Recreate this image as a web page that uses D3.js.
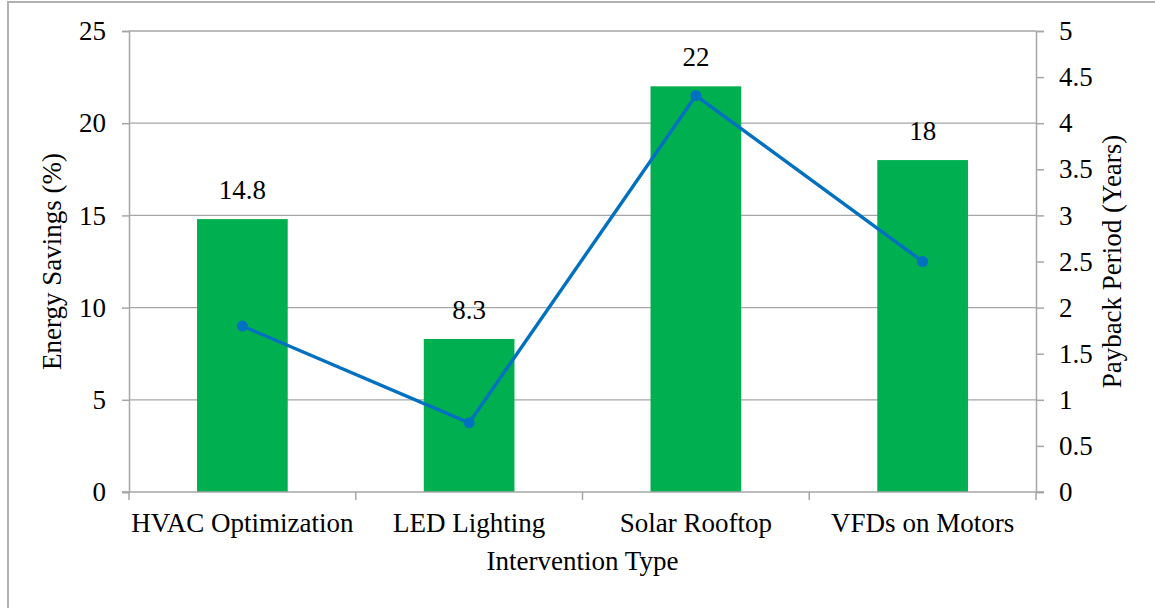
<!DOCTYPE html>
<html>
<head>
<meta charset="utf-8">
<script src="https://cdn.jsdelivr.net/npm/d3@7/dist/d3.min.js"></script>
<style>
  html, body { margin: 0; padding: 0; background: #fff; }
  svg { display: block; }
  svg text { font-family: "Liberation Serif", "Times New Roman", serif !important; fill: #000; }
</style>
</head>
<body>
<svg id="chart" width="1155" height="608" font-family="Liberation Serif, serif"></svg>
<script>
// Interventions and their results
const categories = ["HVAC Optimization", "LED Lighting", "Solar Rooftop", "VFDs on Motors"];
const energySavings = [14.8, 8.3, 22, 18];      // % (bars, left axis)
const paybackYears = [1.8, 0.75, 4.3, 2.5];     // years (line, right axis)
const leftTicks = [0, 5, 10, 15, 20, 25];
const rightTicks = [0, 0.5, 1, 1.5, 2, 2.5, 3, 3.5, 4, 4.5, 5];

const svg = d3.select("#chart");
const W = 1155, H = 608;
const plot = { left: 129, right: 1036, top: 31, bottom: 492 };
const gridColor = "#a6a6a6";
const fontSize = 27;
const serif = '"Liberation Serif", "Times New Roman", serif';

// Outer chart border (top and left edges visible)
svg.append("path")
  .attr("d", `M8,${H} L8,2 L${W},2`)
  .attr("fill", "none")
  .attr("stroke", "#b0b0b0")
  .attr("stroke-width", 2);

const x = d3.scaleBand()
  .domain(categories)
  .range([plot.left, plot.right])
  .paddingInner(0.6)
  .paddingOuter(0.3);

const yL = d3.scaleLinear().domain([0, 25]).range([plot.bottom, plot.top]);
const yR = d3.scaleLinear().domain([0, 5]).range([plot.bottom, plot.top]);

// Horizontal gridlines
svg.append("g")
  .selectAll("line")
  .data(leftTicks.filter(t => t > 0))
  .join("line")
  .attr("x1", plot.left).attr("x2", plot.right)
  .attr("y1", d => yL(d)).attr("y2", d => yL(d))
  .attr("stroke", gridColor).attr("stroke-width", 1.3);

// Bars
svg.append("g")
  .selectAll("rect")
  .data(categories)
  .join("rect")
  .attr("x", d => x(d))
  .attr("width", x.bandwidth())
  .attr("y", (d, i) => yL(energySavings[i]))
  .attr("height", (d, i) => yL(0) - yL(energySavings[i]))
  .attr("fill", "#00b050");

// Bar value labels
svg.append("g")
  .selectAll("text")
  .data(categories)
  .join("text")
  .attr("x", d => x(d) + x.bandwidth() / 2)
  .attr("y", (d, i) => yL(energySavings[i]) - 20)
  .attr("text-anchor", "middle")
  .attr("font-family", serif)
  .attr("font-size", fontSize)
  .text((d, i) => energySavings[i]);

// Left axis
const leftAxis = d3.axisLeft(yL).tickValues(leftTicks).tickSize(7).tickPadding(16).tickFormat(d3.format("d"));
const gL = svg.append("g").attr("transform", `translate(${plot.left},0)`).call(leftAxis);

// Right axis
const rightAxis = d3.axisRight(yR).tickValues(rightTicks).tickSize(8).tickPadding(15).tickFormat(d => String(d));
const gR = svg.append("g").attr("transform", `translate(${plot.right},0)`).call(rightAxis);

// Bottom axis: category labels, ticks on category boundaries
const gB = svg.append("g").attr("transform", `translate(0,${plot.bottom})`);
gB.append("line")
  .attr("x1", plot.left - 7).attr("x2", plot.right + 8)
  .attr("y1", 0).attr("y2", 0)
  .attr("stroke", gridColor).attr("stroke-width", 1.5);
const step = x.step();
gB.selectAll("line.tick")
  .data(d3.range(categories.length + 1))
  .join("line")
  .attr("class", "tick")
  .attr("x1", i => plot.left + i * step).attr("x2", i => plot.left + i * step)
  .attr("y1", 0).attr("y2", 8)
  .attr("stroke", gridColor).attr("stroke-width", 1.5);
gB.selectAll("text")
  .data(categories)
  .join("text")
  .attr("x", d => x(d) + x.bandwidth() / 2)
  .attr("y", 40)
  .attr("text-anchor", "middle")
  .attr("font-family", serif)
  .attr("font-size", fontSize)
  .text(d => d);

[gL, gR].forEach(g => {
  g.attr("font-family", serif).attr("font-size", fontSize);
  g.select(".domain").attr("stroke", gridColor).attr("stroke-width", 1.5);
  g.selectAll(".tick line").attr("stroke", gridColor).attr("stroke-width", 1.5);
  g.selectAll(".tick text").attr("font-size", fontSize).attr("font-family", serif).attr("fill", "#000");
});

// Payback line
const cx = (d, i) => x(categories[i]) + x.bandwidth() / 2;
const line = d3.line()
  .x((d, i) => cx(d, i))
  .y(d => yR(d));
svg.append("path")
  .datum(paybackYears)
  .attr("d", line)
  .attr("fill", "none")
  .attr("stroke", "#0070c0")
  .attr("stroke-width", 3.4)
  .attr("stroke-linejoin", "round");
svg.append("g")
  .selectAll("circle")
  .data(paybackYears)
  .join("circle")
  .attr("cx", (d, i) => cx(d, i))
  .attr("cy", d => yR(d))
  .attr("r", 5.5)
  .attr("fill", "#0070c0");

// Axis titles
const midY = (plot.top + plot.bottom) / 2;
svg.append("text")
  .attr("transform", `translate(61,${midY}) rotate(-90)`)
  .attr("text-anchor", "middle")
  .attr("font-family", serif)
  .attr("font-size", fontSize)
  .text("Energy Savings (%)");
svg.append("text")
  .attr("transform", `translate(1121,${midY}) rotate(-90)`)
  .attr("text-anchor", "middle")
  .attr("font-family", serif)
  .attr("font-size", fontSize)
  .text("Payback Period (Years)");
svg.append("text")
  .attr("x", (plot.left + plot.right) / 2)
  .attr("y", 570)
  .attr("text-anchor", "middle")
  .attr("font-family", serif)
  .attr("font-size", fontSize)
  .text("Intervention Type");
</script>
</body>
</html>
